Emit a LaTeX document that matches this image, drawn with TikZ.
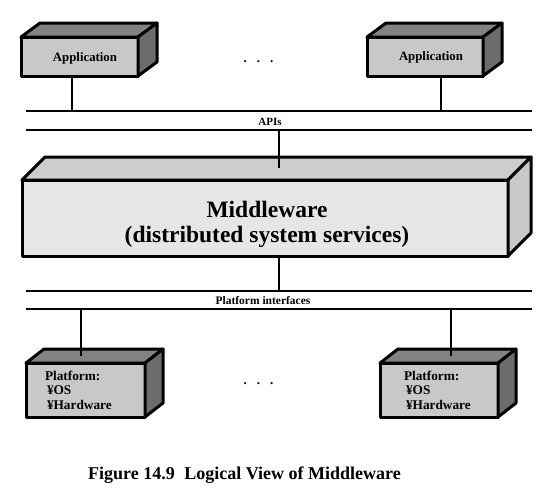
\documentclass[tikz,border=0pt]{standalone}
\usepackage{fontspec}
\setmainfont{Liberation Serif}
\definecolor{appfront}{RGB}{200,200,200}
\definecolor{apptop}{RGB}{130,130,130}
\definecolor{appside}{RGB}{108,108,108}
\definecolor{mwfront}{RGB}{230,230,230}
\definecolor{mwtop}{RGB}{205,205,205}
\definecolor{mwside}{RGB}{200,200,200}
\newcommand{\boxfaces}[5]{%
  \filldraw[face, fill=#4] (#1.north west) -- ++(#2,-#3) -- ([shift={(#2,-#3)}]#1.north east) -- (#1.north east) -- cycle;
  \filldraw[face, fill=#5] (#1.north east) -- ++(#2,-#3) -- ([shift={(#2,-#3)}]#1.south east) -- (#1.south east) -- cycle;
}
\begin{document}
\begin{tikzpicture}[x=1pt,y=-1pt,
  front/.style={draw, line width=3pt, outer sep=0pt, inner sep=0pt, line join=round, font=\bfseries},
  face/.style={draw, line width=3pt, line join=round},
  conn/.style={line width=2pt},
  bus/.style={line width=2pt},
  lbl/.style={font=\bfseries, inner sep=0pt}]
\fill[white] (0,0) rectangle (553,496);
\useasboundingbox (0,0) rectangle (553,496);

% Application boxes
\node[front, fill=appfront, minimum width=117pt, minimum height=39pt] (app1) at (79.5,56.5) {};
\boxfaces{app1}{19}{14}{apptop}{appside}
\node[lbl, font=\bfseries\fontsize{12.8}{14}\selectfont] (app1t) at (85,58) {Application};
\node[front, fill=appfront, minimum width=116pt, minimum height=39pt] (app2) at (425,56.5) {};
\boxfaces{app2}{19}{14}{apptop}{appside}
\node[lbl, font=\bfseries\fontsize{12.8}{14}\selectfont] (app2t) at (431,57) {Application};
\node[lbl, anchor=base, font=\bfseries\fontsize{13}{14}\selectfont] (dots1) at (258.5,62) {.\hspace{10pt}.\hspace{10pt}.};

% API bus
\coordinate (apiAL) at (26,111); \coordinate (apiAR) at (532,111);
\coordinate (apiBL) at (26,130); \coordinate (apiBR) at (532,130);
\draw[bus] (apiAL) -- (apiAR);
\draw[bus] (apiBL) -- (apiBR);
\node[lbl, font=\bfseries\fontsize{11}{12}\selectfont] (apis) at (270,121.5) {APIs};
\draw[conn] (app1.south -| 72,0) -- (apiAL -| 72,0);
\draw[conn] (app2.south -| 441,0) -- (apiAR -| 441,0);

% Middleware
\node[front, fill=mwfront, minimum width=486pt, minimum height=76pt] (mw) at (265,218) {};
\boxfaces{mw}{23}{23}{mwtop}{mwside}
\node[lbl, align=center, font=\bfseries\fontsize{23.5}{25}\selectfont] (mwt) at (267,224) {Middleware\\(distributed system services)};
\coordinate (mwtopc) at (279,168);
\draw[conn] (apiBL -| mwtopc) -- (mwtopc);

% Platform bus
\coordinate (platAL) at (26,291); \coordinate (platAR) at (532,291);
\coordinate (platBL) at (26,309); \coordinate (platBR) at (532,309);
\draw[bus] (platAL) -- (platAR);
\draw[bus] (platBL) -- (platBR);
\node[lbl, font=\bfseries\fontsize{11.5}{12}\selectfont] (platif) at (263,300.5) {Platform interfaces};
\draw[conn] (mw.south -| mwtopc) -- (platAL -| mwtopc);

% Platform boxes
\node[front, fill=appfront, minimum width=119pt, minimum height=54pt, text width=90pt, inner xsep=0pt, align=left, font=\bfseries\fontsize{13.3}{14.5}\selectfont] (plat1) at (85.5,390) {\hspace{4.5pt}Platform:\\\hspace{6.5pt}¥OS\\\hspace{6.5pt}¥Hardware};
\boxfaces{plat1}{18}{14}{apptop}{appside}
\node[front, fill=appfront, minimum width=118pt, minimum height=54pt, text width=90pt, inner xsep=0pt, align=left, font=\bfseries\fontsize{13.3}{14.5}\selectfont] (plat2) at (439,390) {\hspace{10pt}Platform:\\\hspace{12pt}¥OS\\\hspace{12pt}¥Hardware};
\boxfaces{plat2}{18}{14}{apptop}{appside}
\coordinate (p1top) at (81,356);
\coordinate (p2top) at (451,356);
\draw[conn] (platBL -| p1top) -- (p1top);
\draw[conn] (platBL -| p2top) -- (p2top);
\node[lbl, anchor=base, font=\bfseries\fontsize{13}{14}\selectfont] (dots2) at (258.5,384) {.\hspace{10pt}.\hspace{10pt}.};

% Caption
\node[lbl, anchor=base, font=\bfseries\fontsize{18}{20}\selectfont] (cap) at (244.5,479) {Figure 14.9\hspace{5pt} Logical View of Middleware};
\end{tikzpicture}
\end{document}
